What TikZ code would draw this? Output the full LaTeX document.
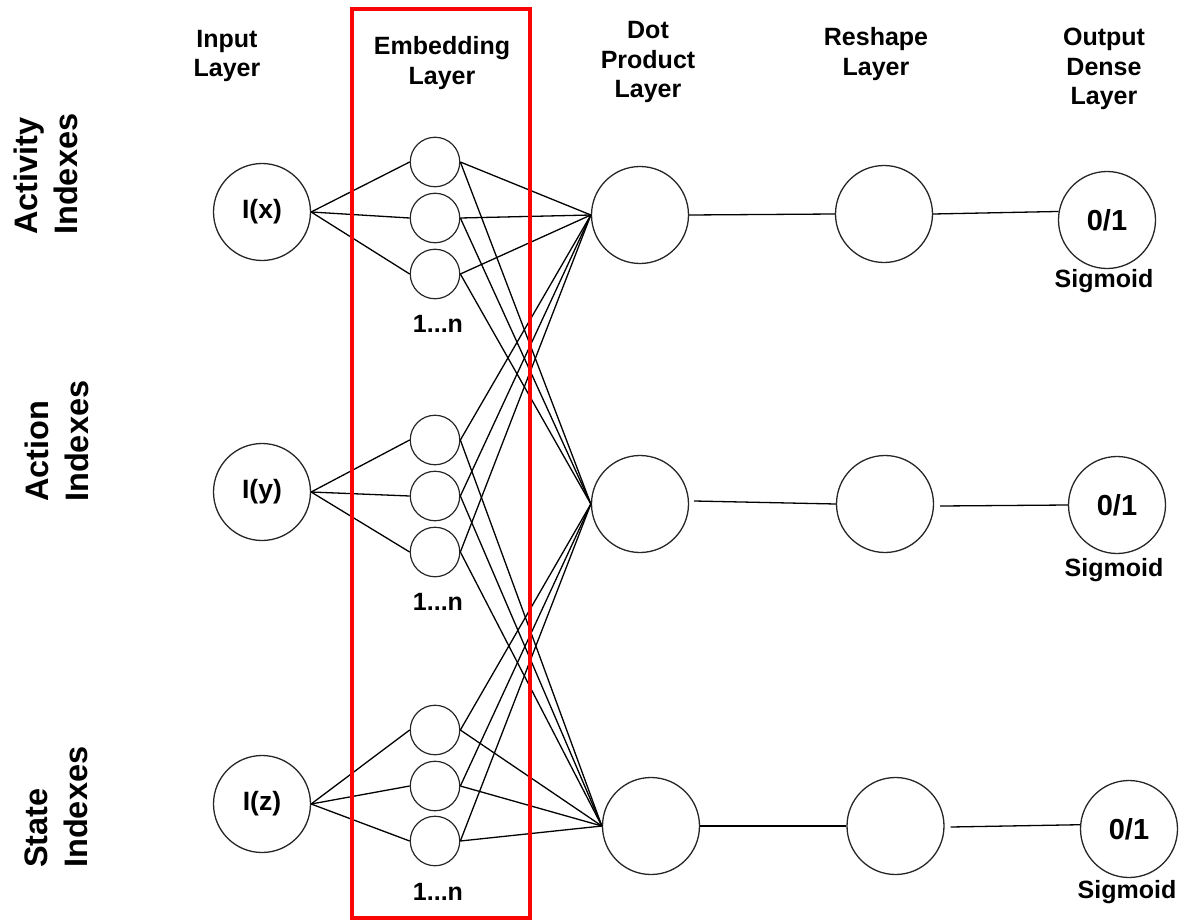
\documentclass[tikz,border=0pt]{standalone}
\usepackage{fontspec}
\setmainfont{Liberation Sans}
\definecolor{framered}{RGB}{250,5,5}
\begin{document}
\begin{tikzpicture}[x=1pt,y=-1pt,
  bign/.style={circle,draw=black!85,line width=1.3pt,minimum size=97pt,inner sep=0pt},
  smalln/.style={circle,draw=black!85,line width=1.2pt,minimum size=49.5pt,inner sep=0pt},
  hdr/.style={align=center,inner sep=0pt,font=\fontsize{25}{29.5}\selectfont\bfseries},
  rot/.style={rotate=90,anchor=west,align=left,inner sep=0pt,font=\fontsize{32.5}{40}\selectfont\bfseries},
  lbl/.style={inner sep=0pt,font=\fontsize{25}{30}\selectfont\bfseries},
  conn/.style={line width=1.3pt,black},
  frame/.style={draw=framered,line width=3.2pt,minimum width=178pt,minimum height=909pt,inner sep=0pt}
]
\useasboundingbox (0,0) rectangle (1188,923);

% headers
\node[hdr] (hin)  at (227,56) {Input\\Layer};
\node[hdr] (hemb) at (442,63) {Embedding\\Layer};
\node[hdr] (hdot) at (648,62) {Dot\\Product\\Layer};
\node[hdr] (hres) at (876,54) {Reshape\\Layer};
\node[hdr] (hout) at (1104,69) {Output\\Dense\\Layer};

% side labels
\node[rot] (sa) at (45.5,235) {Activity\\Indexes};
\node[rot] (sb) at (56.5,502) {Action\\Indexes};
\node[rot] (sc) at (56,868) {State\\Indexes};

% input nodes
\node[bign,font=\fontsize{26.5}{30}\selectfont\bfseries] (I1) at (262,212) {I(x)};
\node[bign,font=\fontsize{26.5}{30}\selectfont\bfseries] (I2) at (262,492) {I(y)};
\node[bign,font=\fontsize{26.5}{30}\selectfont\bfseries] (I3) at (262,804) {I(z)};

% embedding nodes
\node[smalln] (E11) at (435,162) {};
\node[smalln] (E12) at (435,218) {};
\node[smalln] (E13) at (435,274) {};
\node[smalln] (E21) at (435,440) {};
\node[smalln] (E22) at (435,496) {};
\node[smalln] (E23) at (435,552) {};
\node[smalln] (E31) at (435,730) {};
\node[smalln] (E32) at (435,786) {};
\node[smalln] (E33) at (435,841) {};

\node[lbl] (n1) at (438,324) {1...n};
\node[lbl] (n2) at (438,602) {1...n};
\node[lbl] (n3) at (438,892) {1...n};

% dot product nodes
\node[bign] (D1) at (640,215) {};
\node[bign] (D2) at (640,504) {};
\node[bign] (D3) at (651,826) {};

% reshape nodes
\node[bign] (R1) at (884,214) {};
\node[bign] (R2) at (885,504) {};
\node[bign] (R3) at (895.5,826) {};

% output nodes
\node[bign,font=\fontsize{29}{32}\selectfont\bfseries] (O1) at (1107,220) {0/1};
\node[bign,font=\fontsize{29}{32}\selectfont\bfseries] (O2) at (1117,505) {0/1};
\node[bign,font=\fontsize{29}{32}\selectfont\bfseries] (O3) at (1129,829) {0/1};

\node[lbl] (s1) at (1104,281) {Sigmoid};
\node[lbl] (s2) at (1114,570) {Sigmoid};
\node[lbl] (s3) at (1127,892) {Sigmoid};

% connections input -> embedding
\foreach \g in {1,2,3}{
  \foreach \k in {1,2,3}{
    \draw[conn] (I\g.east) -- (E\g\k.west);
  }
}
% embedding -> dot product
\foreach \k in {1,2,3}{
  \draw[conn] (E1\k.east) -- (D1.west);
  \draw[conn] (E1\k.east) -- (D2.west);
  \draw[conn] (E2\k.east) -- (D1.west);
  \draw[conn] (E2\k.east) -- (D3.west);
  \draw[conn] (E3\k.east) -- (D2.west);
  \draw[conn] (E3\k.east) -- (D3.west);
}
% dot -> reshape -> output
\draw[conn] (D1.east) -- (R1.west);
\draw[conn] (R1.east) -- (O1.170);
\draw[conn] ([xshift=5pt,yshift=3pt]D2.east) -- (R2.west);
\draw[conn] ([xshift=6pt,yshift=-2pt]R2.east) -- (O2.west);
\draw[conn] (D3.east) -- (R3.west);
\draw[conn] ([xshift=6pt,yshift=-1pt]R3.east) -- (O3.175);

% embedding frame
\node[frame] (box) at (441,463.5) {};
\end{tikzpicture}
\end{document}
